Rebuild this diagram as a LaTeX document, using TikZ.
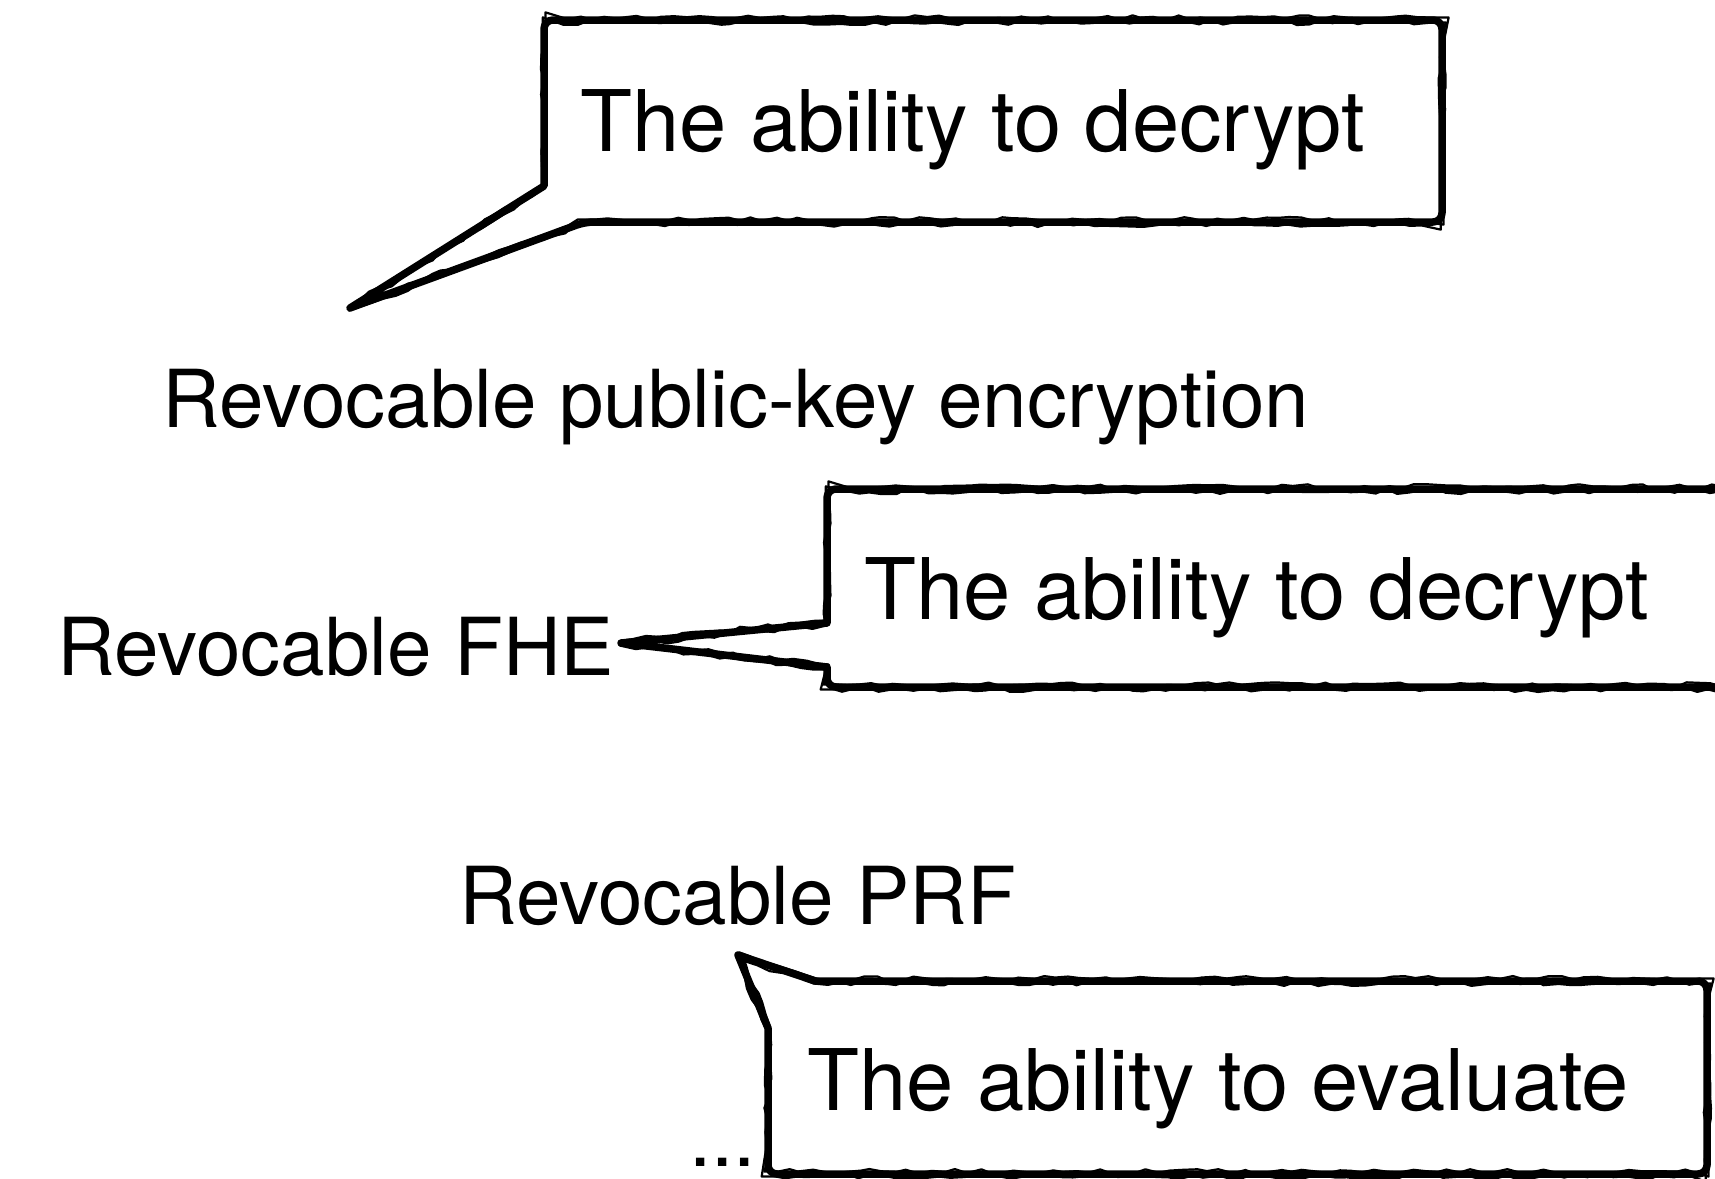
\documentclass[tikz,border=0pt]{standalone}
\usepackage{fontspec}
\setmainfont{TeX Gyre Heros}
\usetikzlibrary{decorations.pathmorphing}
\tikzset{
  bubbletext/.style={anchor=base west, inner sep=0pt, font=\fontsize{85}{100}\selectfont},
  lbltext/.style={anchor=base west, inner sep=0pt, font=\fontsize{80}{96}\selectfont},
  ink/.style={draw=black, line width=7.5pt, line join=round, line cap=round},
  rough/.style={draw=black, line width=2.2pt, line join=round, decorate,
    decoration={random steps, segment length=12pt, amplitude=2.5pt}},
}
\newcommand\sketchbubble[1]{%
  \draw[ink] #1;
  \draw[rough, xshift=1.5pt, yshift=2.5pt] #1;
  \draw[rough, xshift=-1.2pt, yshift=-2.5pt] #1;
}
\begin{document}
\begin{tikzpicture}[x=1pt,y=-1pt]
\clip (0,0) rectangle (1715,1178);
\fill[white] (0,0) rectangle (1715,1178);

% bubble outlines
\pgfmathsetseed{11}
\sketchbubble{[rounded corners=9pt] (544,186) -- (544,20) -- (1442,20) -- (1442,222) -- (585,222) [sharp corners] -- (350,308) -- cycle}
\sketchbubble{[rounded corners=9pt] (827,623) -- (827,489) -- (1730,489) -- (1730,687) -- (827,687) [sharp corners] -- (827,667) -- (621,643) -- cycle}
\sketchbubble{[rounded corners=9pt] (815,981) -- (1707,981) -- (1707,1174) -- (768,1174) [sharp corners] -- (768,1028) -- (738,955) -- cycle}

% bubble texts
\node[bubbletext] (t1) at (580,151) {The ability to decrypt};
\node[bubbletext] (t2) at (864,619) {The ability to decrypt};
\node[bubbletext] (t3) at (807,1110) {The ability to evaluate};

% labels
\node[lbltext] (pke) at (162,427) {Revocable public-key encryption};
\node[lbltext] (fhe) at (57,675) {Revocable FHE};
\node[lbltext] (prf) at (459,924) {Revocable PRF};
\node[lbltext] (dots) at (689,1166) {...};
\end{tikzpicture}
\end{document}
